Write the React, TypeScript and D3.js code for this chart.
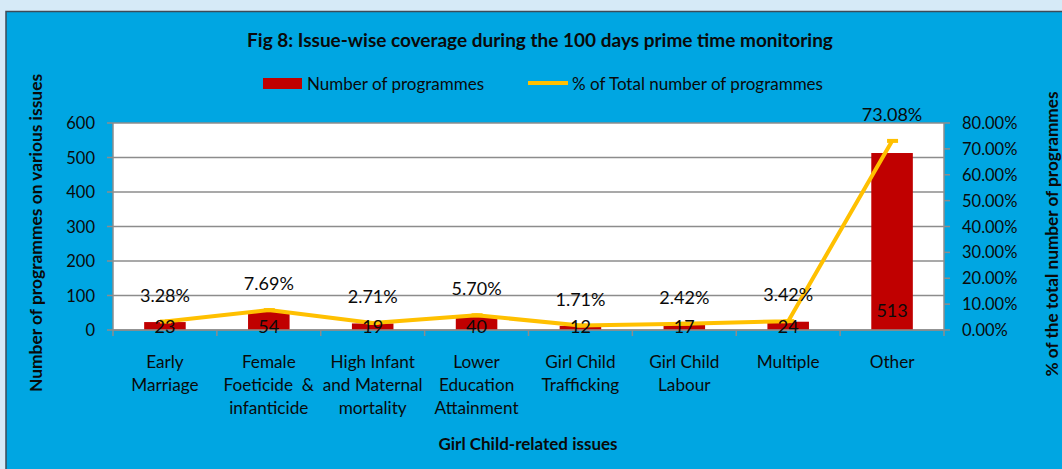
import React from "react";
import * as d3 from "d3";

const title = "Fig 8: Issue-wise coverage during the 100 days prime time monitoring";
const categories: string[][] = [
  ["Early", "Marriage"],
  ["Female", "Foeticide  &", "infanticide"],
  ["High Infant", "and Maternal", "mortality"],
  ["Lower", "Education", "Attainment"],
  ["Girl Child", "Trafficking"],
  ["Girl Child", "Labour"],
  ["Multiple"],
  ["Other"],
];
const programmes = [23, 54, 19, 40, 12, 17, 24, 513];
const percentages = [3.28, 7.69, 2.71, 5.7, 1.71, 2.42, 3.42, 73.08];
const leftTicks = [0, 100, 200, 300, 400, 500, 600];
const rightTicks = [0, 10, 20, 30, 40, 50, 60, 70, 80];
const barLegend = "Number of programmes";
const lineLegend = "% of Total number of programmes";
const xTitle = "Girl Child-related issues";
const yLeftTitle = "Number of programmes on various issues";
const yRightTitle = "% of the total number of programmes";

const W = 1062;
const H = 469;
const P = { left: 113, right: 944, top: 123, bottom: 330 };
const FONT = "Lato, Carlito, Calibri, 'Open Sans', sans-serif";
const BAR = "#c00000";
const LINE = "#ffc000";
const AXIS = "#8c8c8c";
const BG = "#00a6e2";
const TXT = "#0a0a0a";

export default function App() {
  const idx = categories.map((_, i) => i);
  const x = d3.scaleBand<number>().domain(idx).range([P.left, P.right]).padding(0);
  const xb = d3
    .scaleBand<number>()
    .domain(idx)
    .range([P.left, P.right])
    .paddingInner(0.6)
    .paddingOuter(0.3);
  const yL = d3.scaleLinear().domain([0, 600]).range([P.bottom, P.top]);
  const yR = d3.scaleLinear().domain([0, 80]).range([P.bottom, P.top]);
  const cx = (i: number) => (x(i) as number) + x.bandwidth() / 2;
  const line = d3
    .line<number>()
    .x((_, i) => cx(i))
    .y((d) => yR(d));

  return (
    <svg
      width={W}
      height={H}
      style={{ position: "absolute", left: 0, top: 0, display: "block" }}
      fontFamily={FONT}
    >
      <rect x={0} y={0} width={W} height={H} fill="#d6eaf7" />
      <rect x={6} y={11.5} width={W + 10} height={H + 10} fill={BG} stroke="#3d4b58" strokeWidth={1.5} />

      <text x={540} y={39} textAnchor="middle" dominantBaseline="central" fontSize={19} fontWeight="bold" fill={TXT}>
        {title}
      </text>

      {/* legend */}
      <rect x={263} y={78} width={39} height={11} fill={BAR} />
      <text x={307} y={83} dominantBaseline="central" fontSize={17} fill={TXT}>
        {barLegend}
      </text>
      <line x1={528} x2={568} y1={83} y2={83} stroke={LINE} strokeWidth={4} />
      <text x={572} y={83} dominantBaseline="central" fontSize={17} fill={TXT}>
        {lineLegend}
      </text>

      {/* plot area */}
      <rect x={P.left} y={P.top} width={P.right - P.left} height={P.bottom - P.top} fill="#ffffff" />
      {leftTicks.map((t) => (
        <g key={"gl" + t}>
          <line x1={P.left} x2={P.right} y1={yL(t)} y2={yL(t)} stroke={AXIS} strokeWidth={1.5} />
          <line x1={P.left - 6} x2={P.left} y1={yL(t)} y2={yL(t)} stroke={AXIS} strokeWidth={1.5} />
          <text x={95} y={yL(t)} textAnchor="end" dominantBaseline="central" fontSize={16.5} fill={TXT}>
            {t}
          </text>
        </g>
      ))}
      {rightTicks.map((t) => (
        <g key={"gr" + t}>
          <line x1={P.right} x2={P.right + 6} y1={yR(t)} y2={yR(t)} stroke={AXIS} strokeWidth={1.5} />
          <text x={962} y={yR(t)} dominantBaseline="central" fontSize={16.5} fill={TXT}>
            {t.toFixed(2) + "%"}
          </text>
        </g>
      ))}
      <line x1={P.left} x2={P.left} y1={P.top} y2={P.bottom + 6} stroke={AXIS} strokeWidth={1.5} />
      <line x1={P.right} x2={P.right} y1={P.top} y2={P.bottom + 6} stroke={AXIS} strokeWidth={1.5} />
      {idx.slice(1).map((i) => (
        <line key={"xt" + i} x1={x(i) as number} x2={x(i) as number} y1={P.bottom} y2={P.bottom + 6} stroke={AXIS} strokeWidth={1.5} />
      ))}

      {/* bars */}
      {programmes.map((v, i) => (
        <rect key={"b" + i} x={xb(i) as number} y={yL(v)} width={xb.bandwidth()} height={P.bottom - yL(v)} fill={BAR} />
      ))}
      <line x1={P.left} x2={P.right} y1={P.bottom} y2={P.bottom} stroke={AXIS} strokeWidth={1.5} />

      {/* line */}
      <path d={line(percentages) || ""} fill="none" stroke={LINE} strokeWidth={4} strokeLinejoin="round" />
      {percentages.map((v, i) => (
        <line key={"m" + i} x1={cx(i) - 5} x2={cx(i) + 6} y1={yR(v)} y2={yR(v)} stroke={LINE} strokeWidth={4} />
      ))}

      {/* value labels */}
      {programmes.map((v, i) => {
        const h = P.bottom - yL(v);
        const yy = h > 30 ? P.bottom - 20 : P.bottom - 4.5;
        return (
          <text key={"vl" + i} x={cx(i)} y={yy} textAnchor="middle" dominantBaseline="central" fontSize={18} fill={TXT}>
            {v}
          </text>
        );
      })}
      {percentages.map((v, i) => (
        <text key={"pl" + i} x={cx(i)} y={yR(v) - 27} textAnchor="middle" dominantBaseline="central" fontSize={18} fill={TXT}>
          {v.toFixed(2) + "%"}
        </text>
      ))}

      {/* category labels */}
      {categories.map((lines, i) => (
        <text key={"c" + i} x={cx(i)} textAnchor="middle" fontSize={17.2} fill={TXT}>
          {lines.map((l, j) => (
            <tspan key={j} x={cx(i)} y={361 + j * 23} dominantBaseline="central" style={{ whiteSpace: "pre" }}>
              {l}
            </tspan>
          ))}
        </text>
      ))}

      {/* axis titles */}
      <text x={528} y={443} textAnchor="middle" dominantBaseline="central" fontSize={17} fontWeight="bold" fill={TXT}>
        {xTitle}
      </text>
      <text
        transform={`translate(35,233) rotate(-90)`}
        textAnchor="middle"
        dominantBaseline="central"
        fontSize={17.4}
        fontWeight="bold"
        fill={TXT}
      >
        {yLeftTitle}
      </text>
      <text
        transform={`translate(1051,234) rotate(-90)`}
        textAnchor="middle"
        dominantBaseline="central"
        fontSize={17.2}
        fontWeight="bold"
        fill={TXT}
      >
        {yRightTitle}
      </text>
    </svg>
  );
}
